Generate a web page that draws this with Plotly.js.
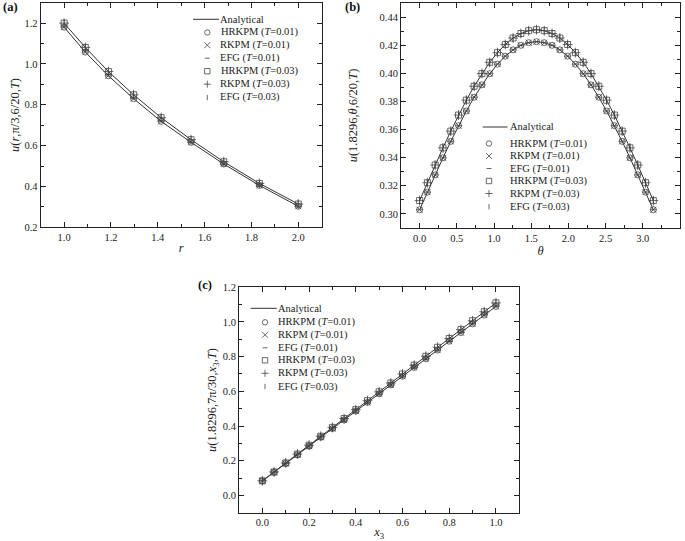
<!DOCTYPE html>
<html>
<head>
<meta charset="utf-8">
<script src="https://cdn.plot.ly/plotly-3.0.1.min.js"></script>
<style>html,body{margin:0;padding:0;background:#fff;}#chart{width:685px;height:541px;}</style>
</head>
<body>
<div id="chart"></div>
<script>
// ---------- Panel (a) data ----------
const r_vals = [1.0, 1.0905, 1.1892, 1.2968, 1.4142, 1.5422, 1.6818, 1.8340, 2.0];
const ua_T001 = [1.180, 1.058, 0.942, 0.830, 0.719, 0.616, 0.510, 0.405, 0.303];
const ua_T003 = [1.200, 1.081, 0.963, 0.849, 0.737, 0.629, 0.521, 0.415, 0.314];

// ---------- Panel (b) data ----------
const theta_vals = [0, 0.1047, 0.2094, 0.3142, 0.4189, 0.5236, 0.6283, 0.7330, 0.8378, 0.9425,
  1.0472, 1.1519, 1.2566, 1.3614, 1.4661, 1.5708, 1.6755, 1.7802, 1.8850, 1.9897,
  2.0944, 2.1991, 2.3038, 2.4086, 2.5133, 2.6180, 2.7227, 2.8274, 2.9322, 3.0369, 3.1416];
const ub_T001 = [0.3030,0.3155,0.3278,0.3399,0.3516,0.3628,0.3732,0.3830,0.3918,0.3997,
  0.4065,0.4122,0.4167,0.4199,0.4218,0.4225,0.4218,0.4199,0.4167,0.4122,
  0.4065,0.3997,0.3918,0.3830,0.3732,0.3628,0.3516,0.3399,0.3278,0.3155,0.3030];
const ub_T003 = [0.3095,0.3222,0.3348,0.3470,0.3589,0.3703,0.3809,0.3908,0.3998,0.4078,
  0.4147,0.4205,0.4251,0.4283,0.4303,0.4310,0.4303,0.4283,0.4251,0.4205,
  0.4147,0.4078,0.3998,0.3908,0.3809,0.3703,0.3589,0.3470,0.3348,0.3222,0.3095];

// ---------- Panel (c) data ----------
const x3_vals = [0, 0.05, 0.1, 0.15, 0.2, 0.25, 0.3, 0.35, 0.4, 0.45, 0.5,
  0.55, 0.6, 0.65, 0.7, 0.75, 0.8, 0.85, 0.9, 0.95, 1.0];
const uc_T001 = [0.083,0.133,0.184,0.234,0.284,0.335,0.385,0.435,0.486,0.536,0.586,
  0.637,0.687,0.738,0.788,0.838,0.889,0.939,0.989,1.040,1.090];
const uc_T003 = [0.084,0.135,0.187,0.238,0.289,0.341,0.392,0.443,0.494,0.546,0.597,
  0.648,0.700,0.751,0.802,0.854,0.905,0.956,1.007,1.059,1.110];

// ---------- Legend labels ----------
const legendLabels = ['Analytical', 'HRKPM (<i>T</i>=0.01)', 'RKPM (<i>T</i>=0.01)', 'EFG (<i>T</i>=0.01)',
  'HRKPM (<i>T</i>=0.03)', 'RKPM (<i>T</i>=0.03)', 'EFG (<i>T</i>=0.03)'];

const W = 685, H = 541;
const FONT = '"Liberation Serif", "Times New Roman", serif';
const LINE_C = '#333';
const MK_C = '#444';

const traces = [];
function addPanel(xs, lo, hi, xa, ya) {
  traces.push({x: xs, y: lo, xaxis: xa, yaxis: ya, mode: 'lines', name: legendLabels[0], line: {color: LINE_C, width: 1}, showlegend: false});
  traces.push({x: xs, y: hi, xaxis: xa, yaxis: ya, mode: 'lines', name: legendLabels[0], line: {color: LINE_C, width: 1}, showlegend: false});
  const specs = [
    [lo, 'circle-open', 6, legendLabels[1]],
    [lo, 'x-thin-open', 6, legendLabels[2]],
    [lo, 'line-ew-open', 5, legendLabels[3]],
    [hi, 'square-open', 6, legendLabels[4]],
    [hi, 'cross-thin-open', 7, legendLabels[5]],
    [hi, 'line-ns-open', 5, legendLabels[6]]
  ];
  specs.forEach(s => traces.push({x: xs, y: s[0], xaxis: xa, yaxis: ya, mode: 'markers', name: s[3], showlegend: false,
    marker: {symbol: s[1], size: s[2], color: MK_C, line: {color: MK_C, width: 0.8}}}));
}
addPanel(r_vals, ua_T001, ua_T003, 'x', 'y');
addPanel(theta_vals, ub_T001, ub_T003, 'x2', 'y2');
addPanel(x3_vals, uc_T001, uc_T003, 'x3', 'y3');

function axis(extra) {
  return Object.assign({
    showline: true, mirror: 'allticks', linecolor: '#222', linewidth: 1,
    ticks: 'inside', ticklen: 5, tickwidth: 1, tickcolor: '#222',
    showgrid: false, zeroline: false, fixedrange: true,
    tickfont: {family: FONT, size: 10.5, color: '#222'}
  }, extra);
}
const minorTicks = d => ({dtick: d, ticks: 'inside', ticklen: 3, tickwidth: 1, tickcolor: '#222', showgrid: false});
const px = v => v / W;
const py = v => 1 - v / H;
const tfont = {family: FONT, size: 12.5, color: '#222'};

const layout = {
  width: W, height: H, margin: {l: 0, r: 0, t: 0, b: 0},
  paper_bgcolor: '#fff', plot_bgcolor: '#fff', showlegend: false,
  font: {family: FONT, color: '#222'},
  xaxis: axis({domain: [px(40.7), px(321.7)], range: [0.9, 2.1], dtick: 0.2, tick0: 0, tickformat: '.1f', minor: minorTicks(0.1), anchor: 'y',
    title: {text: '<i>r</i>', font: tfont, standoff: 1}}),
  yaxis: axis({domain: [py(227.3), py(2.7)], range: [0.2, 1.3], dtick: 0.2, tick0: 0.2, tickformat: '.1f', minor: minorTicks(0.1), anchor: 'x',
    title: {text: '<i>u</i>(<i>r</i>,π/3,6/20,<i>T</i>)', font: tfont, standoff: 2}}),
  xaxis2: axis({domain: [px(401), px(680)], range: [-0.25, 3.5], dtick: 0.5, tick0: 0, tickformat: '.1f', minor: minorTicks(0.25), anchor: 'y2',
    title: {text: '<i>θ</i>', font: tfont, standoff: 1}}),
  yaxis2: axis({domain: [py(228), py(3)], range: [0.29, 0.45], dtick: 0.02, tick0: 0.3, tickformat: '.2f', minor: minorTicks(0.01), anchor: 'x2',
    title: {text: '<i>u</i>(1.8296,<i>θ</i>,6/20,<i>T</i>)', font: tfont, standoff: 19}}),
  xaxis3: axis({domain: [px(239), px(519.3)], range: [-0.1, 1.1], dtick: 0.2, tick0: 0, tickformat: '.1f', minor: minorTicks(0.1), anchor: 'y3',
    title: {text: '<i>x</i><sub>3</sub>', font: tfont, standoff: 0}}),
  yaxis3: axis({domain: [py(512.7), py(287.3)], range: [-0.1, 1.2], dtick: 0.2, tick0: 0, tickformat: '.1f', minor: minorTicks(0.1), anchor: 'x3',
    title: {text: '<i>u</i>(1.8296,7π/30,<i>x</i><sub>3</sub>,<i>T</i>)', font: tfont, standoff: 3}}),
  shapes: [], annotations: []
};

// panel labels
[['(a)', 1, 7], ['(b)', 343, 7], ['(c)', 196, 285]].forEach(p => layout.annotations.push({
  xref: 'paper', yref: 'paper', x: px(p[1]), y: py(p[2]), xanchor: 'left', yanchor: 'middle',
  text: '<b>' + p[0] + '</b>', showarrow: false, font: {family: FONT, size: 12.5, color: '#111'}
}));

// custom compact legends
function addLegend(lineX0, lineX1, symX, textX, rows) {
  const ln = {color: '#444', width: 0.8};
  rows.forEach((ry, i) => {
    const ax = px(symX), ay = py(ry);
    const base = {xref: 'paper', yref: 'paper', xsizemode: 'pixel', ysizemode: 'pixel', xanchor: ax, yanchor: ay, line: ln};
    if (i === 0) {
      layout.shapes.push({type: 'line', xref: 'paper', yref: 'paper', x0: px(lineX0), x1: px(lineX1), y0: ay, y1: ay, line: {color: LINE_C, width: 1}});
    } else if (i === 1) {
      layout.shapes.push(Object.assign({type: 'circle', x0: -2.7, x1: 2.7, y0: -2.7, y1: 2.7}, base));
    } else if (i === 2) {
      layout.shapes.push(Object.assign({type: 'path', path: 'M-3,-3L3,3M-3,3L3,-3'}, base));
    } else if (i === 3) {
      layout.shapes.push(Object.assign({type: 'path', path: 'M-2.5,0L2.5,0'}, base));
    } else if (i === 4) {
      layout.shapes.push(Object.assign({type: 'rect', x0: -2.7, x1: 2.7, y0: -2.7, y1: 2.7}, base));
    } else if (i === 5) {
      layout.shapes.push(Object.assign({type: 'path', path: 'M-3.5,0L3.5,0M0,-3.5L0,3.5'}, base));
    } else {
      layout.shapes.push(Object.assign({type: 'path', path: 'M0,-2.7L0,2.7'}, base));
    }
    layout.annotations.push({xref: 'paper', yref: 'paper', x: px(textX), y: py(ry), xanchor: 'left', yanchor: 'middle',
      text: legendLabels[i], showarrow: false, borderpad: 0, font: {family: FONT, size: 10.5, color: '#222'}});
  });
}
addLegend(193, 219, 207.3, 219.5, [19.3, 32.5, 45.2, 58.2, 71.2, 84.2, 97.5]);
addLegend(482.7, 507.5, 489, 508.5, [127, 143.5, 156, 168.5, 181, 193.5, 206.7]);
addLegend(250.7, 276.7, 265, 277, [308.3, 322.3, 334.8, 347.8, 360.3, 373.3, 386.5]);

Plotly.newPlot('chart', traces, layout, {staticPlot: true, displayModeBar: false});
</script>
</body>
</html>
